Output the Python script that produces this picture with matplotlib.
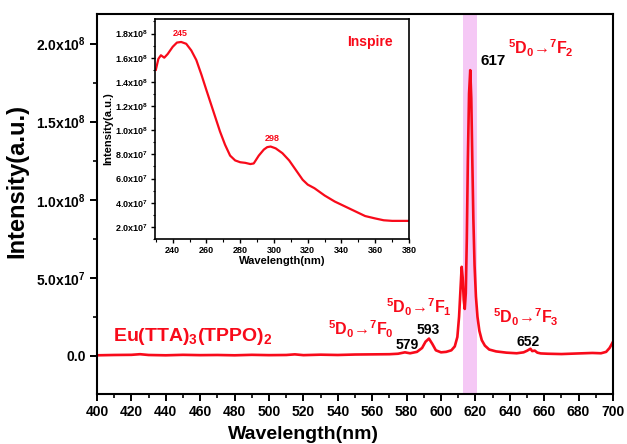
import matplotlib
matplotlib.use("Agg")
import matplotlib.pyplot as plt
from matplotlib.ticker import MultipleLocator, FuncFormatter

plt.rcParams["font.family"] = ["Liberation Sans", "DejaVu Sans"]
plt.rcParams["font.weight"] = "bold"
plt.rcParams["mathtext.fontset"] = "custom"
plt.rcParams["mathtext.rm"] = "Liberation Sans:bold"
plt.rcParams["mathtext.it"] = "Liberation Sans:bold"
plt.rcParams["mathtext.bf"] = "Liberation Sans:bold"

# ---- emission spectrum (excitation into ligand band) ----
em_wavelength = [400, 410, 420, 425, 430, 440, 450, 460, 470, 480, 490, 500, 510, 515,
                 520, 530, 540, 550, 560, 570, 575, 579, 582, 586, 589, 591, 593, 595,
                 597, 600, 603, 606, 608, 609.5, 610.5, 611.3, 612, 612.6, 613.2, 613.8,
                 614.4, 615, 615.6, 616.3, 617, 617.6, 618.2, 618.8, 619.5, 620.3, 621.2,
                 622.3, 623.7, 625.5, 628, 632, 638, 644, 648, 650, 652, 653, 654.5, 656,
                 658, 662, 670, 680, 688, 693, 696, 698, 699, 700]
em_intensity_1e6 = [0.3, 0.5, 0.6, 1.0, 0.5, 0.3, 0.6, 0.4, 0.5, 0.3, 0.6, 0.4, 0.5, 0.9,
                    0.4, 0.7, 0.5, 0.8, 0.9, 1.0, 1.3, 2.2, 1.6, 2.5, 5.0, 9.0, 11.0, 7.5,
                    3.5, 2.2, 2.5, 3.5, 6.0, 12.0, 25.0, 42.0, 57.0, 50.0, 36.0, 30.0,
                    40.0, 75.0, 125.0, 168.0, 183.0, 165.0, 125.0, 88.0, 58.0, 38.0, 25.0,
                    16.0, 10.0, 6.5, 4.0, 2.8, 2.0, 1.6, 2.2, 3.2, 4.5, 3.0, 3.3, 2.0,
                    1.5, 1.3, 1.1, 1.5, 1.8, 1.6, 2.5, 5.0, 7.0, 9.0]

# ---- excitation spectrum (monitoring 617 nm) ----
ex_wavelength = [230, 231.5, 233, 235, 237, 240, 242.5, 245, 248, 251, 254, 257, 260, 264,
                 268, 271, 274, 277, 280, 283, 286, 288, 291, 294, 296, 298, 301, 305,
                 309, 313, 317, 320, 324, 330, 336, 342, 348, 354, 360, 365, 370, 380]
ex_intensity_1e7 = [15.0, 15.9, 16.2, 16.0, 16.3, 16.9, 17.25, 17.3, 17.15, 16.6, 15.8,
                    14.6, 13.3, 11.6, 9.9, 8.8, 7.9, 7.5, 7.35, 7.3, 7.2, 7.25, 7.9, 8.4,
                    8.6, 8.65, 8.5, 8.1, 7.5, 6.7, 5.9, 5.5, 5.2, 4.6, 4.1, 3.7, 3.3, 2.9,
                    2.7, 2.55, 2.5, 2.5]

em_x_ticks = list(range(400, 701, 20))
em_y_ticks = [0.0, 5.0e7, 1.0e8, 1.5e8, 2.0e8]
ex_x_ticks = list(range(240, 381, 20))
ex_y_ticks = [2e7, 4e7, 6e7, 8e7, 1e8, 1.2e8, 1.4e8, 1.6e8, 1.8e8]

RED = "#f80a1a"


def sci_label(v, _pos=None):
    if v == 0:
        return "0.0"
    exp = 0
    m = abs(v)
    while m >= 10:
        m /= 10.0
        exp += 1
    return f"{m:.1f}x10$^{{{exp}}}$"


fig = plt.figure(figsize=(6.27, 4.44), dpi=100)
ax = fig.add_axes([0.1547, 0.1126, 0.823, 0.8559])

ax.axvspan(613, 621, color="#f5c8f5", zorder=0, lw=0)
em_y = [v * 1e6 for v in em_intensity_1e6]
ax.plot(em_wavelength, em_y, color=RED, lw=1.9, zorder=2)

ax.set_xlim(400, 700)
ax.set_ylim(-2.45e7, 2.19e8)
ax.set_xticks(em_x_ticks)
ax.set_yticks(em_y_ticks)
ax.xaxis.set_minor_locator(MultipleLocator(10))
ax.yaxis.set_minor_locator(MultipleLocator(2.5e7))
ax.yaxis.set_major_formatter(FuncFormatter(sci_label))
ax.tick_params(which="major", direction="out", length=5, width=1.4, labelsize=10, pad=3)
ax.tick_params(which="minor", direction="out", length=3, width=1.2)
ax.tick_params(top=False, right=False)
for side in ax.spines.values():
    side.set_linewidth(1.5)
for lbl in ax.get_xticklabels() + ax.get_yticklabels():
    lbl.set_fontweight("bold")

ax.set_xlabel("Wavelength(nm)", fontsize=14, fontweight="bold")
ax.xaxis.set_label_coords(0.40, -0.085)
ax.set_ylabel("Intensity(a.u.)", fontsize=17, fontweight="bold")
ax.yaxis.set_label_coords(-0.133, 0.56)

ax.text(409.3, 1.22e7, "Eu(TTA)$_3$(TPPO)$_2$", color=RED, fontsize=14,
        fontweight="bold", ha="left", va="center")

trans_kw = dict(color=RED, fontsize=11.5, fontweight="bold", ha="left", va="center")
ax.text(639, 1.97e8, "$^5$D$_0$\u2192$^7$F$_2$", **trans_kw)
ax.text(568, 3.1e7, "$^5$D$_0$\u2192$^7$F$_1$", **trans_kw)
ax.text(534.3, 1.7e7, "$^5$D$_0$\u2192$^7$F$_0$", **trans_kw)
ax.text(630.2, 2.44e7, "$^5$D$_0$\u2192$^7$F$_3$", **trans_kw)

num_kw = dict(color="black", fontweight="bold", ha="center", va="center")
ax.text(630.2, 1.89e8, "617", fontsize=11, **num_kw)
ax.text(580.2, 7.0e6, "579", fontsize=10, **num_kw)
ax.text(592.4, 1.67e7, "593", fontsize=10, **num_kw)
ax.text(650.5, 9.0e6, "652", fontsize=10, **num_kw)

# ---- inset ----
ins = fig.add_axes([0.2472, 0.4617, 0.4051, 0.4955])
ex_y = [v * 1e7 for v in ex_intensity_1e7]
ins.plot(ex_wavelength, ex_y, color=RED, lw=1.6)
ins.set_xlim(229.5, 380)
ins.set_ylim(1.0e7, 1.92e8)
ins.set_xticks(ex_x_ticks)
ins.set_yticks(ex_y_ticks)
ins.xaxis.set_minor_locator(MultipleLocator(10))
ins.yaxis.set_minor_locator(MultipleLocator(1e7))
ins.yaxis.set_major_formatter(FuncFormatter(sci_label))
ins.tick_params(which="major", direction="out", length=3, width=1.0, labelsize=6.5, pad=2)
ins.tick_params(which="minor", direction="out", length=1.8, width=0.8)
ins.tick_params(top=False, right=False)
for side in ins.spines.values():
    side.set_linewidth(1.2)
for lbl in ins.get_xticklabels() + ins.get_yticklabels():
    lbl.set_fontweight("bold")
ins.set_xlabel("Wavelength(nm)", fontsize=8, fontweight="bold", labelpad=1)
ins.set_ylabel("Intensity(a.u.)", fontsize=8, fontweight="bold", labelpad=1)

ins.text(244.2, 1.80e8, "245", color=RED, fontsize=6.5, fontweight="bold",
         ha="center", va="center")
ins.text(299, 9.3e7, "298", color=RED, fontsize=6.5, fontweight="bold",
         ha="center", va="center")
ins.text(357, 1.73e8, "Inspire", color=RED, fontsize=10, fontweight="bold",
         ha="center", va="center")

fig.savefig("out.png", dpi=100)
